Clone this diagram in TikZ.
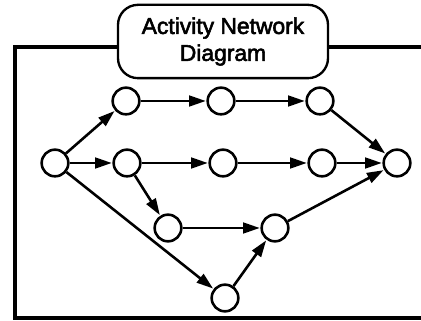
\documentclass[tikz,border=0pt]{standalone}
\usepackage{fontspec}
\setmainfont{Liberation Sans}
\newfontfamily\headfont{Liberation Sans}[BoldFont=Liberation Sans, BoldFeatures={FakeBold=2.5}]
\usetikzlibrary{arrows.meta}

\begin{document}
\begin{tikzpicture}[
    x=0.03cm, y=-0.03cm,
    event/.style={circle, draw=black, line width=2.2pt, minimum size=0.8cm, inner sep=0pt, fill=white},
    act/.style={-{Triangle[length=5mm, width=3.2mm]}, line width=2.2pt, shorten >=0.5pt},
    title/.style={rectangle, rounded corners=0.6cm, draw=black, line width=2pt, fill=white,
        minimum width=6.3cm, minimum height=2.2cm, align=center, font=\headfont\bfseries\fontsize{19.5}{23}\selectfont}
]
\clip (0,0) rectangle (421,321);

% frame and heading
\draw[line width=3pt] (430,47) -- (15,47) -- (15,318) -- (430,318);
\node[title] (head) at (223,41.5) {Activity Network\\Diagram};

% events
\node[event] (2_0) at (55,163) {};
\node[event] (1_1) at (126,101) {};
\node[event] (1_2) at (221,101) {};
\node[event] (1_3) at (320,101) {};
\node[event] (2_1) at (127,163) {};
\node[event] (2_2) at (223,163) {};
\node[event] (2_3) at (322,163) {};
\node[event] (2_4) at (397,163) {};
\node[event] (3_1) at (168,228) {};
\node[event] (3_2) at (275,228) {};
\node[event] (4_1) at (225,298) {};

% activities
\draw[act] (2_0) to (1_1);
\draw[act] (2_0) to (2_1);
\draw[act] (2_0) to (4_1);

\draw[act] (1_1) to (1_2);
\draw[act] (1_2) to (1_3);
\draw[act] (1_3) to (2_4);

\draw[act] (2_1) to (2_2);
\draw[act] (2_2) to (2_3);
\draw[act] (2_3) to (2_4);

\draw[act] (2_1) to (3_1);
\draw[act] (3_1) to (3_2);
\draw[act] (3_2) to (2_4);
\draw[act] (4_1) to (3_2);

\end{tikzpicture}
\end{document}
